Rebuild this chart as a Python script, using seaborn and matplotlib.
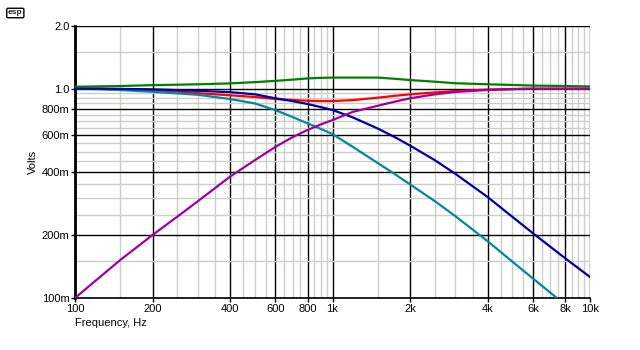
import numpy as np
import pandas as pd
import matplotlib
matplotlib.use("Agg")
import matplotlib.pyplot as plt
from matplotlib.ticker import FixedLocator, NullFormatter
import seaborn as sns

# ---- data ----
freq = [100, 125, 150, 200, 250, 300, 400, 500, 600, 700, 800, 900, 1000,
        1200, 1500, 1750, 2000, 2500, 3000, 4000, 5000, 6000, 8000, 10000]

green = [1.022, 1.026, 1.03, 1.04, 1.045, 1.05, 1.06, 1.075, 1.09, 1.105, 1.12, 1.127, 1.13,
         1.13, 1.13, 1.115, 1.10, 1.08, 1.062, 1.05, 1.042, 1.035, 1.03, 1.025]
red = [1.0, 0.998, 0.995, 0.985, 0.97, 0.952, 0.93, 0.913, 0.893, 0.883, 0.876, 0.873, 0.873,
       0.882, 0.906, 0.925, 0.94, 0.96, 0.975, 0.99, 0.997, 1.0, 1.0, 1.0]
cyan = [1.0, 0.995, 0.985, 0.967, 0.95, 0.935, 0.893, 0.85, 0.79, 0.732, 0.683, 0.643, 0.607,
        0.527, 0.441, 0.39, 0.349, 0.290, 0.246, 0.187, 0.149, 0.124, 0.093, 0.075]
blue = [1.0, 1.0, 0.998, 0.993, 0.985, 0.977, 0.963, 0.94, 0.90, 0.872, 0.845, 0.817, 0.791,
        0.729, 0.645, 0.586, 0.535, 0.455, 0.392, 0.304, 0.244, 0.204, 0.155, 0.126]
magenta = [0.100, 0.126, 0.152, 0.200, 0.245, 0.29, 0.38, 0.456, 0.527, 0.587, 0.635, 0.675, 0.708,
           0.775, 0.829, 0.868, 0.90, 0.94, 0.965, 0.986, 0.995, 1.0, 1.0, 1.0]

x_ticks = [100, 200, 400, 600, 800, 1000, 2000, 4000, 6000, 8000, 10000]
x_labels = ["100", "200", "400", "600", "800", "1k", "2k", "4k", "6k", "8k", "10k"]
y_ticks = [0.1, 0.2, 0.4, 0.6, 0.8, 1.0, 2.0]
y_labels = ["100m", "200m", "400m", "600m", "800m", "1.0", "2.0"]
minor_mult = [1.5, 2.5, 3, 3.5, 4.5, 5, 5.5, 6.5, 7, 7.5, 8.5, 9, 9.5]

sns.set_theme(style="white")
plt.rcParams["font.family"] = ["Liberation Sans", "DejaVu Sans"]

fig = plt.figure(figsize=(6.4, 3.5), dpi=100)
ax = fig.add_axes([75 / 640, 1 - 298 / 350, 515 / 640, 272.3 / 350])

series = [("green", green, "#008000"), ("red", red, "#FF0000"), ("cyan", cyan, "#0088A0"),
          ("blue", blue, "#0000A0"), ("magenta", magenta, "#A000A0")]
for name, vals, col in series:
    sns.lineplot(x=freq, y=vals, color=col, linewidth=1.6, ax=ax, zorder=5)

ax.set_xscale("log")
ax.set_yscale("log")
ax.set_xlim(100, 10000)
ax.set_ylim(0.1, 2.0)

ax.xaxis.set_major_locator(FixedLocator(x_ticks))
ax.set_xticklabels(x_labels)
ax.yaxis.set_major_locator(FixedLocator(y_ticks))
ax.set_yticklabels(y_labels)

xminor = [m * d for d in (100, 1000) for m in minor_mult]
yminor = [m * 0.1 for m in minor_mult] + [1.5]
ax.xaxis.set_minor_locator(FixedLocator(xminor))
ax.yaxis.set_minor_locator(FixedLocator(yminor))
ax.xaxis.set_minor_formatter(NullFormatter())
ax.yaxis.set_minor_formatter(NullFormatter())

ax.grid(which="minor", color="#C8D0C8", linewidth=1.0, zorder=1)
ax.grid(which="major", color="black", linewidth=1.0, zorder=2)
ax.set_axisbelow(True)

ax.tick_params(which="major", direction="out", length=3, width=1, colors="black",
               labelsize=8, pad=1, bottom=True, left=True)
ax.tick_params(which="minor", length=0)
for s in ["top", "right"]:
    ax.spines[s].set_visible(False)
ax.spines["left"].set_color("black")
ax.spines["left"].set_linewidth(2)
ax.spines["bottom"].set_color("black")
ax.spines["bottom"].set_linewidth(1.2)

ax.set_xlabel("Frequency, Hz", fontsize=8, loc="left", labelpad=3, color="black")
ax.set_ylabel("Volts", fontsize=8, labelpad=3, color="black")

fig.text(8 / 640, 1 - 13 / 350, "esp", fontsize=6, fontweight="bold", va="center", ha="left",
         bbox=dict(boxstyle="round,pad=0.15", fc="white", ec="black", lw=1))

fig.savefig("out.png", dpi=100, facecolor="white")
